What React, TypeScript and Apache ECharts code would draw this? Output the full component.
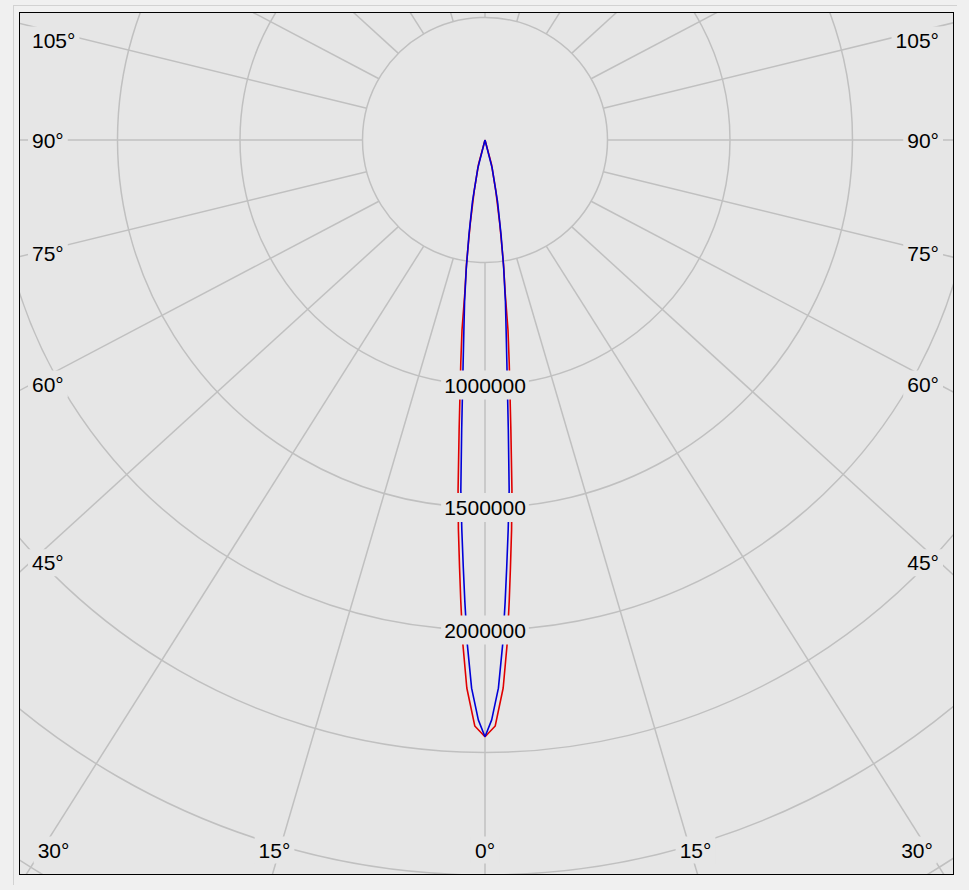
import React, { useEffect, useRef } from 'react';
import * as echarts from 'echarts';

// Gamma angles (deg) and luminous intensity for the two C-plane curves
const gammaRed = [0, 1.0, 1.9, 2.5, 3.0, 3.4, 3.9, 4.4, 5.1, 6.2, 6.9, 7.5, 8.5, 10, 12, 15, 20, 30, 45, 60, 75, 90];
const intensityRed = [2436000, 2392000, 2238000, 2063000, 1887000, 1750000, 1595000, 1433000, 1188000, 915000, 781000, 633000, 510000, 347000, 212000, 102000, 0, 0, 0, 0, 0, 0];

const gammaBlue = [0, 0.66, 1.4, 2.0, 2.5, 2.9, 3.4, 3.95, 4.6, 5.6, 6.3, 7.2, 8.3, 9.6, 11.5, 14.3, 20, 30, 45, 60, 75, 90];
const intensityBlue = [2436000, 2367000, 2238000, 2062000, 1886000, 1749000, 1595000, 1432000, 1187000, 915000, 787000, 665000, 529000, 393000, 257000, 119000, 0, 0, 0, 0, 0, 0];

// Grid
const spokeAngles = [0, 15, 30, 45, 60, 75, 90, 105, 120, 135, 150, 165, 180, 195, 210, 225, 240, 255, 270, 285, 300, 315, 330, 345];
const radiusLabels = [1000000, 1500000, 2000000];
const sideAngleLabels = [45, 60, 75, 90, 105];
const bottomAngleLabels = [0, 15, 30];

const RADIUS_MIN_GRID = 500000;
const RADIUS_MAX = 4000000;

export default function App() {
  const ref = useRef<HTMLDivElement>(null);

  useEffect(() => {
    if (!ref.current) return;
    const chart = echarts.init(ref.current, undefined, { renderer: 'svg' });

    const W = 933;
    const H = 861;
    const cx = 465;
    const cy = 127;
    const pxPerUnit = 122.5 / 500000;
    const radiusPx = RADIUS_MAX * pxPerUnit;
    const k = H / W; // aspect distortion of spokes
    const font = '21px "Liberation Sans", Arial, sans-serif';
    const bg = '#e6e6e6';
    const gridColor = '#c0c0c0';

    const toRad = (d: number) => (d * Math.PI) / 180;

    const buildCurve = (gam: number[], val: number[]) => {
      const pts: number[][] = [];
      for (let i = gam.length - 1; i >= 0; i--) pts.push([val[i], -gam[i]]);
      for (let i = 1; i < gam.length; i++) pts.push([val[i], gam[i]]);
      return pts;
    };

    const spokeSeries = spokeAngles.map((a) => {
      const t = a > 180 ? a - 360 : a;
      const phi = (Math.atan2(Math.sin(toRad(t)), k * Math.cos(toRad(t))) * 180) / Math.PI;
      return {
        type: 'line',
        coordinateSystem: 'polar',
        polarIndex: 0,
        data: [
          [RADIUS_MIN_GRID, t],
          [RADIUS_MAX, phi],
        ],
        symbol: 'none',
        silent: true,
        z: 1,
        lineStyle: { color: gridColor, width: 1.5 },
      };
    });

    const textStyleBase = {
      font,
      fill: '#000',
      backgroundColor: bg,
      padding: [3, 4],
    };

    const graphics: any[] = [];
    const insetX = 458;
    const insetY = 725;
    sideAngleLabels.forEach((a) => {
      const t = toRad(a);
      let y = cy + (insetX * k * Math.cos(t)) / Math.sin(t);
      y = Math.max(27, y);
      graphics.push({
        type: 'text',
        x: 8,
        y,
        z: 100,
        style: { ...textStyleBase, text: a + '°', textAlign: 'left', align: 'left', textVerticalAlign: 'middle', verticalAlign: 'middle' },
      });
      graphics.push({
        type: 'text',
        x: 923,
        y,
        z: 100,
        style: { ...textStyleBase, text: a + '°', textAlign: 'right', align: 'right', textVerticalAlign: 'middle', verticalAlign: 'middle' },
      });
    });
    bottomAngleLabels.forEach((a) => {
      const t = toRad(a);
      const off = (insetY * Math.tan(t)) / k;
      const sides = a === 0 ? [0] : [-1, 1];
      sides.forEach((s) => {
        let x = cx + s * off;
        x = Math.min(897, Math.max(33.5, x));
        graphics.push({
          type: 'text',
          x,
          y: 837,
          z: 100,
          style: { ...textStyleBase, text: a + '°', textAlign: 'center', align: 'center', textVerticalAlign: 'middle', verticalAlign: 'middle' },
        });
      });
    });

    const option: any = {
      animation: false,
      backgroundColor: bg,
      polar: [{ center: [cx, cy], radius: radiusPx }],
      angleAxis: {
        type: 'value',
        polarIndex: 0,
        min: -180,
        max: 180,
        startAngle: 90,
        clockwise: false,
        axisLine: { show: false },
        axisTick: { show: false },
        axisLabel: { show: false },
        splitLine: { show: false },
      },
      radiusAxis: {
        type: 'value',
        polarIndex: 0,
        min: 0,
        max: RADIUS_MAX,
        interval: 500000,
        axisLine: { show: false },
        axisTick: { show: false },
        axisLabel: { show: false },
        splitLine: { show: true, lineStyle: { color: gridColor, width: 1.5 } },
      },
      series: [
        ...spokeSeries,
        {
          type: 'line',
          name: 'red',
          coordinateSystem: 'polar',
          polarIndex: 0,
          data: buildCurve(gammaRed, intensityRed),
          symbol: 'none',
          silent: true,
          z: 3,
          lineStyle: { color: '#e00000', width: 1.6 },
        },
        {
          type: 'line',
          name: 'blue',
          coordinateSystem: 'polar',
          polarIndex: 0,
          data: buildCurve(gammaBlue, intensityBlue),
          symbol: 'none',
          silent: true,
          z: 4,
          lineStyle: { color: '#0000d8', width: 1.6 },
        },
        {
          type: 'scatter',
          coordinateSystem: 'polar',
          polarIndex: 0,
          data: radiusLabels.map((v) => [v, 0]),
          symbolSize: 1,
          silent: true,
          z: 10,
          itemStyle: { color: bg },
          label: {
            show: true,
            position: 'inside',
            formatter: (p: any) => String(p.value[0]),
            fontFamily: '"Liberation Sans", Arial, sans-serif',
            fontSize: 21,
            color: '#000000',
            textBorderWidth: 0,
            textBorderColor: 'transparent',
            opacity: 1,
            backgroundColor: bg,
            padding: [4, 3],
          },
        },
      ],
      graphic: graphics,
    };

    chart.setOption(option);
    return () => chart.dispose();
  }, []);

  return (
    <div style={{ position: 'fixed', left: 0, top: 0, width: 969, height: 890, background: '#f0f0f0', overflow: 'hidden' }}>
      <div
        style={{
          position: 'absolute',
          left: 13,
          top: 5,
          width: 944,
          height: 880,
          borderTop: '1px solid #d2d2d2',
          borderLeft: '1px solid #d2d2d2',
          boxSizing: 'border-box',
        }}
      />
      <div
        style={{
          position: 'absolute',
          left: 19,
          top: 12,
          width: 935,
          height: 863,
          border: '1px solid #000',
          boxSizing: 'border-box',
          background: '#e6e6e6',
        }}
      >
        <div ref={ref} style={{ width: 933, height: 861 }} />
      </div>
    </div>
  );
}
